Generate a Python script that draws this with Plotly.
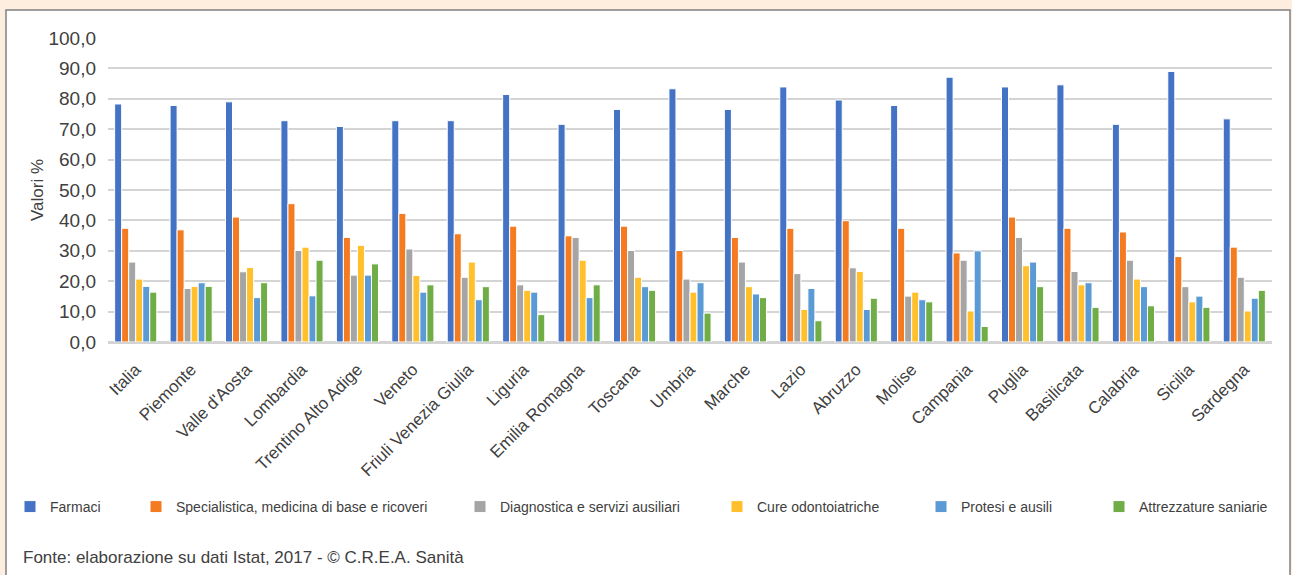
import plotly.graph_objects as go

regions = ["Italia", "Piemonte", "Valle d'Aosta", "Lombardia", "Trentino Alto Adige", "Veneto",
           "Friuli Venezia Giulia", "Liguria", "Emilia Romagna", "Toscana", "Umbria", "Marche",
           "Lazio", "Abruzzo", "Molise", "Campania", "Puglia", "Basilicata", "Calabria", "Sicilia",
           "Sardegna"]

farmaci = [78.3, 77.8, 79.0, 72.8, 70.9, 72.8, 72.8, 81.4, 71.6, 76.5, 83.3, 76.5, 83.9, 79.6,
           77.8, 87.1, 83.9, 84.6, 71.6, 89.0, 73.4]
specialistica = [37.4, 36.9, 41.1, 45.5, 34.4, 42.3, 35.6, 38.1, 34.9, 38.1, 30.1, 34.4, 37.4, 39.9,
                 37.4, 29.3, 41.1, 37.4, 36.2, 28.1, 31.2]
diagnostica = [26.3, 17.6, 23.1, 30.1, 22.0, 30.6, 21.3, 18.8, 34.4, 30.1, 20.7, 26.3, 22.5, 24.4,
               15.1, 26.9, 34.4, 23.2, 26.9, 18.2, 21.3]
cure_odont = [20.7, 18.3, 24.5, 31.2, 31.8, 21.9, 26.3, 17.0, 26.9, 21.3, 16.4, 18.2, 10.7, 23.2,
              16.4, 10.2, 25.1, 18.8, 20.7, 13.2, 10.2]
protesi = [18.3, 19.5, 14.6, 15.2, 22.0, 16.4, 13.9, 16.4, 14.6, 18.2, 19.5, 15.8, 17.6, 10.7,
           13.9, 30.0, 26.3, 19.5, 18.2, 15.1, 14.4]
attrezzature = [16.4, 18.3, 19.5, 26.9, 25.7, 18.8, 18.2, 9.0, 18.8, 17.0, 9.5, 14.6, 7.0, 14.4,
                13.2, 5.1, 18.2, 11.4, 11.9, 11.4, 17.0]

series_names = ["Farmaci", "Specialistica, medicina di base e ricoveri",
                "Diagnostica e servizi ausiliari", "Cure odontoiatriche",
                "Protesi e ausili", "Attrezzature saniarie"]
series_values = [farmaci, specialistica, diagnostica, cure_odont, protesi, attrezzature]
colors = ["#4472C4", "#F47B20", "#A5A5A5", "#FFC02B", "#5B9BD5", "#70AD47"]

y_ticks = [0, 10, 20, 30, 40, 50, 60, 70, 80, 90, 100]

FONT = "Liberation Sans, Arial, sans-serif"
TXT = "#404040"
PEACH = "#FEEEE0"

W, H = 1292, 575
L, R, T, B = 108, 20, 38, 233
pw, ph = W - L - R, H - T - B


def px_x(px):
    return (px - L) / pw


def px_y(py):
    return (H - B - py) / ph


fig = go.Figure()
legend_names = ["legend", "legend2", "legend3", "legend4", "legend5", "legend6"]
for name, vals, col, lg in zip(series_names, series_values, colors, legend_names):
    fig.add_trace(go.Bar(
        x=regions, y=vals, name=name, legend=lg,
        marker=dict(color=col, line=dict(color="white", width=1)),
        hovertemplate="%{x}<br>" + name + ": %{y:.1f}<extra></extra>",
    ))

# legend text start positions (pixels) for each entry
legend_text_x = [50, 176, 500, 757, 961, 1139]
legend_layouts = {}
for lg, tx in zip(legend_names, legend_text_x):
    legend_layouts[lg] = dict(
        x=px_x(tx - 40), xanchor="left", y=px_y(507), yanchor="middle",
        orientation="h", bgcolor="rgba(0,0,0,0)",
        font=dict(family=FONT, size=14, color=TXT),
    )

# white card with grey border
fig.add_shape(type="rect", xref="paper", yref="paper",
              x0=px_x(6), x1=px_x(1290), y0=px_y(585), y1=px_y(10),
              fillcolor="white", line=dict(color="#808080", width=1.5), layer="below")

fig.add_annotation(text="Fonte: elaborazione su dati Istat, 2017 - © C.R.E.A. Sanità",
                   xref="paper", yref="paper", x=px_x(21), y=px_y(557),
                   xanchor="left", yanchor="middle", showarrow=False,
                   font=dict(family=FONT, size=17, color=TXT))

fig.update_layout(
    width=W, height=H,
    margin=dict(l=L, r=R, t=T, b=B, autoexpand=False),
    paper_bgcolor=PEACH, plot_bgcolor="white",
    barmode="group", bargap=0.24, bargroupgap=0,
    separators=",.",
    font=dict(family=FONT, color=TXT),
    showlegend=True,
    **legend_layouts,
)
fig.update_xaxes(
    tickangle=-45, tickfont=dict(family=FONT, size=17, color=TXT),
    showline=True, linecolor="#d4d4d4", linewidth=2, ticks="",
    ticklabelstandoff=9,
    automargin=False,
)
fig.update_yaxes(
    range=[0, 100], tickvals=y_ticks, tickformat=".1f",
    tickfont=dict(family=FONT, size=19, color=TXT),
    showgrid=True, gridcolor="#d4d4d4", gridwidth=2,
    zeroline=True, zerolinecolor="#d4d4d4", zerolinewidth=2,
    ticks="", ticklabelstandoff=11,
    title=dict(text="Valori %", font=dict(family=FONT, size=17, color=TXT), standoff=0),
    automargin=False,
)

fig.write_html("out.html",
               config={"displayModeBar": False},
               post_script="document.body.style.margin='0';document.body.style.background='" + PEACH + "';")
